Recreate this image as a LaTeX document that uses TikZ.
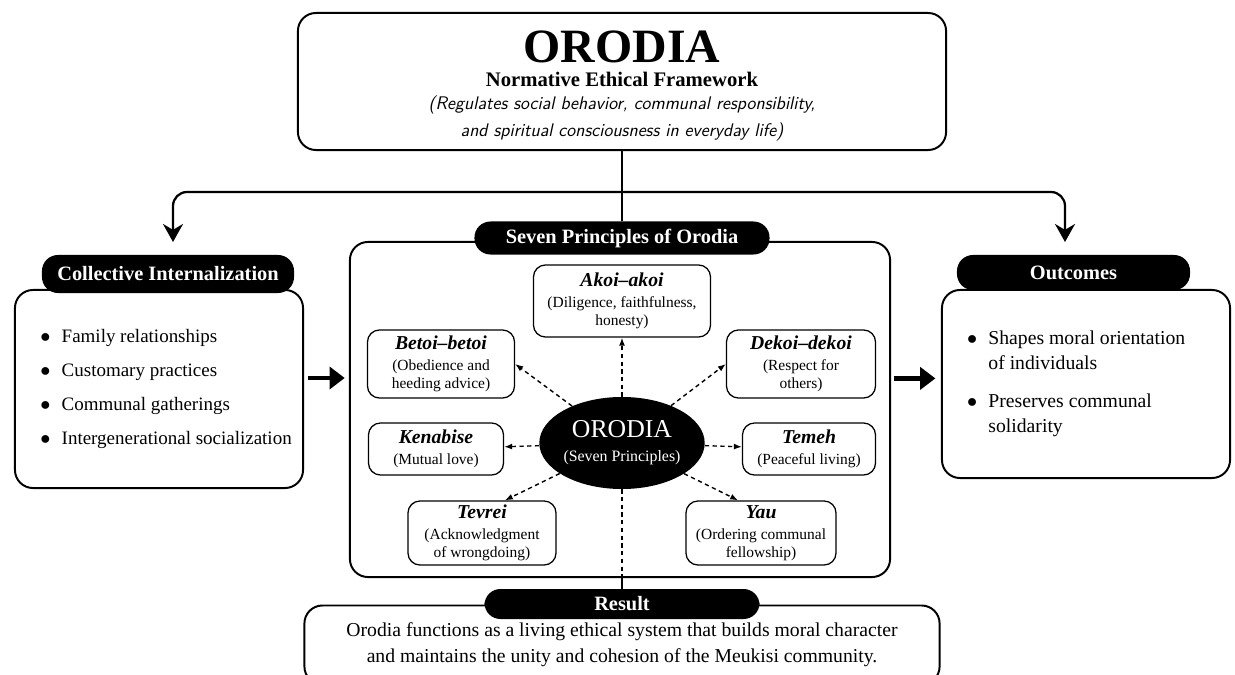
\documentclass[tikz,border=0pt]{standalone}
\usepackage{fontspec}
\setmainfont{Liberation Serif}
\usepackage{tikz}
\usetikzlibrary{shapes.geometric}
\usetikzlibrary {arrows.meta}

\newcommand{\pname}[1]{{\fontsize{14}{15}\selectfont\bfseries\itshape #1}\\[2.5pt]}

\begin{document}
\begin{tikzpicture}[x=0.025cm, y=-0.025cm,
        mainbox/.style={draw, line width=1.4pt, rounded corners=0.45cm, fill=white},
        headbox/.style={fill=black, text=white, rounded corners=0.4cm, inner sep=0pt,
            font=\fontsize{14.5}{16}\selectfont\bfseries},
        princbox/.style={draw, line width=0.9pt, rounded corners=0.3cm, align=center,
            inner sep=0pt, font=\fontsize{11}{12.8}\selectfont},
        link/.style={line width=1pt, dash pattern=on 3pt off 2.5pt, -{Latex[length=2mm]}},
        fat/.style={line width=3.5pt, -{Triangle[length=3.8mm,width=5.5mm]}}]
        \useasboundingbox[fill=white] (0,0) rectangle (1235,675);

        % Framework
        \node[mainbox, minimum width=16.2cm, minimum height=3.425cm, align=center,
            font=\fontsize{13}{14}\selectfont] (top) at (622,81.5)
            {\rule{0pt}{29.5pt}{\fontsize{34}{36}\selectfont\bfseries ORODIA}\\[3pt]
             {\fontsize{14.7}{16}\selectfont\bfseries Normative Ethical Framework}\\[2.4pt]
             {\fontsize{13}{16}\selectfont\sffamily\itshape (Regulates social behavior, communal responsibility,}\\[5.2pt]
             {\fontsize{13}{16}\selectfont\sffamily\itshape and spiritual consciousness in everyday life)}};

        % Collective internalization
        \node[mainbox, minimum width=7.2cm, minimum height=4.95cm, font=\fontsize{13.5}{16}\selectfont] (colbox) at (159,389)
            {\begin{tabular}{@{\hspace{10pt}}l@{\hspace{8pt}}l@{}}
                $\bullet$ & Family relationships\\[8pt]
                $\bullet$ & Customary practices\\[8pt]
                $\bullet$ & Communal gatherings\\[8pt]
                $\bullet$ & Intergenerational socialization
             \end{tabular}};
        \node[headbox, minimum width=6.3cm, minimum height=0.95cm] (colhead) at (168,274) {Collective Internalization};

        % Seven principles
        \node[mainbox, minimum width=13.5cm, minimum height=8.375cm] (seven) at (620,409.5) {};
        \node[headbox, minimum width=7.375cm, minimum height=0.825cm] (sevenhead) at (622,238) {Seven Principles of Orodia};

        \node[princbox, minimum width=4.425cm, minimum height=1.8cm] (akoi) at (622,301)
            {\pname{Akoi--akoi}(Diligence, faithfulness,\\honesty)};
        \node[princbox, minimum width=3.675cm, minimum height=1.7cm] (betoi) at (441,364)
            {\pname{Betoi--betoi}(Obedience and\\heeding advice)};
        \node[princbox, minimum width=3.725cm, minimum height=1.7cm] (dekoi) at (801,364)
            {\pname{Dekoi--dekoi}(Respect for\\others)};
        \node[princbox, minimum width=3.375cm, minimum height=1.3cm] (kenabise) at (436,449)
            {\pname{Kenabise}(Mutual love)};
        \node[princbox, minimum width=3.325cm, minimum height=1.3cm] (temeh) at (809,449)
            {\pname{Temeh}(Peaceful living)};
        \node[princbox, minimum width=3.7cm, minimum height=1.6cm] (tevrei) at (482,533)
            {\pname{Tevrei}(Acknowledgment\\of wrongdoing)};
        \node[princbox, minimum width=3.75cm, minimum height=1.6cm] (yau) at (761,533)
            {\pname{Yau}(Ordering communal\\fellowship)};

        \node[ellipse, fill=black, text=white, minimum width=4cm, minimum height=2.3cm,
            inner sep=0pt, align=center, font=\fontsize{11.3}{17}\selectfont] (orodia) at (622,443)
            {{\fontsize{18.3}{20}\selectfont ORODIA}\\(Seven Principles)};

        % Outcomes
        \node[mainbox, minimum width=7.2cm, minimum height=4.7cm, font=\fontsize{14}{17}\selectfont] (outbox) at (1086,384)
            {\begin{tabular}{@{}l@{\hspace{8pt}}l@{\hspace{14pt}}}
                $\bullet$ & Shapes moral orientation\\[0.8pt]
                          & of individuals\\[10pt]
                $\bullet$ & Preserves communal\\[0.8pt]
                          & solidarity
             \end{tabular}};
        \node[headbox, minimum width=5.825cm, minimum height=0.875cm] (outhead) at (1073.5,272.5) {Outcomes};

        % Result
        \node[mainbox, minimum width=15.875cm, minimum height=1.975cm, align=center,
            font=\fontsize{14}{15}\selectfont] (resbox) at (622,645)
            {Orodia functions as a living ethical system that builds moral character\\[3.5pt]
             and maintains the unity and cohesion of the Meukisi community.};
        \node[headbox, minimum width=6.875cm, minimum height=0.75cm] (reshead) at (622,604) {Result};

        % Connectors
        \coordinate (fork) at (622,192);
        \coordinate (ldrop) at (173,242);
        \coordinate (rdrop) at (1065,242);
        \draw[line width=1.6pt] (top.south) -- (sevenhead.north);
        \draw[line width=1.6pt, rounded corners=0.35cm, -{Stealth[length=4.5mm,width=5mm]}] (fork) -| (ldrop);
        \draw[line width=1.6pt, rounded corners=0.35cm, -{Stealth[length=4.5mm,width=5mm]}] (fork) -| (rdrop);

        \draw[fat, shorten <=3pt, shorten >=3pt] ([yshift=0.275cm]colbox.east) -- ([yshift=0.275cm]colbox.east -| seven.west);
        \draw[fat, shorten <=2pt, shorten >=4pt] ([yshift=0.14cm]outbox.west -| seven.east) -- ([yshift=0.14cm]outbox.west);

        \draw[link] (orodia) -- (akoi);
        \draw[link] (orodia) -- (betoi.east);
        \draw[link] (orodia) -- (dekoi.west);
        \draw[link] (orodia) -- (kenabise);
        \draw[link] (orodia) -- (temeh);
        \draw[link] (orodia) -- (tevrei.55);
        \draw[link] (orodia) -- (yau.125);

        \draw[line width=1pt, dash pattern=on 3pt off 2.5pt] (orodia.south) -- (orodia.south |- seven.south);
        \draw[line width=1.2pt] (orodia.south |- seven.south) -- (reshead.north);
    \end{tikzpicture}
\end{document}
